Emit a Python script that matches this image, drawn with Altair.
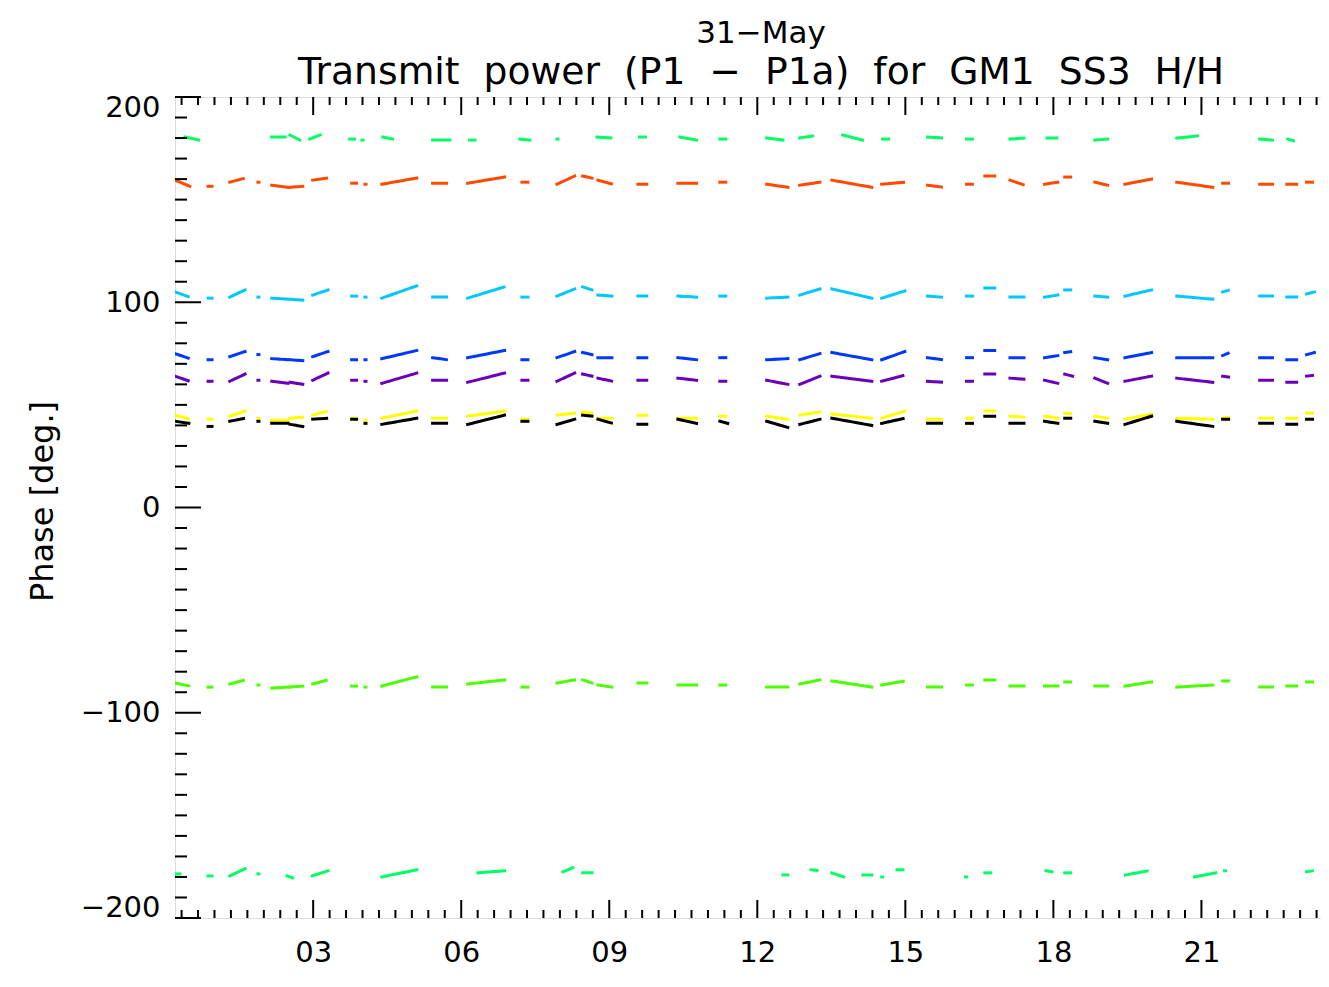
import altair as alt
import pandas as pd

# ---------------- data ----------------
# time clusters (hours of day) shared by the phase series
CLUSTER_START = [0.20, 0.87, 1.31, 1.88, 2.16, 2.53, 2.99, 3.78, 4.05, 4.39, 5.42, 6.13,
                 7.23, 7.94, 8.46, 8.77, 9.58, 10.39, 11.24, 12.19, 12.86, 13.51, 14.52, 15.45,
                 16.24, 16.61, 17.12, 17.82, 18.23, 18.84, 19.45, 20.50, 21.43, 22.18, 22.73, 23.13]
CLUSTER_END = [0.50, 0.95, 1.62, 1.90, 2.49, 2.79, 3.30, 3.88, 4.07, 5.10, 5.71, 6.88,
               7.39, 8.30, 8.65, 9.07, 9.76, 10.77, 11.40, 12.62, 13.27, 14.32, 14.99, 15.76,
               16.36, 16.81, 17.42, 18.09, 18.39, 19.10, 19.99, 21.23, 21.57, 22.44, 22.93, 23.29]

# (value at cluster start, value at cluster end), degrees
RED = [(159.5, 156.5), (156.5, 156.5), (158.5, 160.5), (158.5, 158.5), (157.0, 156.0), (156.0, 156.5),
       (159.5, 160.5), (158.0, 158.0), (157.5, 157.5), (157.5, 160.5), (158.0, 158.0), (158.0, 161.0),
       (158.5, 158.5), (157.5, 161.5), (161.5, 160.5), (159.5, 157.5), (157.5, 157.5), (158.0, 158.0),
       (158.5, 158.5), (157.5, 156.0), (157.0, 158.5), (159.5, 156.0), (157.5, 158.5), (157.0, 156.0),
       (157.5, 157.5), (161.5, 161.5), (159.5, 157.0), (157.5, 158.5), (161.0, 161.0), (158.5, 157.0),
       (157.5, 160.0), (158.5, 156.0), (158.0, 158.0), (157.5, 157.5), (157.5, 157.5), (158.5, 158.5)]
CYAN = [(105.0, 102.5), (102.0, 102.0), (102.5, 106.0), (102.5, 102.5), (102.0, 101.5), (101.5, 101.0),
        (103.5, 106.0), (103.0, 103.0), (102.5, 102.5), (102.0, 108.0), (102.5, 102.5), (102.0, 107.5),
        (102.5, 102.5), (103.0, 106.5), (107.5, 106.0), (103.5, 103.0), (103.0, 103.0), (103.0, 102.5),
        (103.0, 103.0), (102.0, 102.5), (103.5, 106.5), (106.5, 102.0), (102.0, 105.5), (103.0, 102.5),
        (103.0, 103.0), (107.0, 107.0), (102.5, 102.5), (102.5, 103.5), (106.0, 106.0), (103.0, 102.5),
        (103.0, 106.0), (103.0, 101.5), (105.0, 106.0), (103.0, 103.0), (102.5, 102.5), (104.0, 105.0)]
BLUE = [(75.0, 72.5), (72.0, 72.0), (73.5, 76.0), (74.5, 74.5), (72.5, 72.0), (72.0, 71.5),
        (73.5, 76.0), (72.0, 72.0), (72.0, 72.0), (72.5, 76.5), (73.0, 72.0), (73.0, 76.5),
        (72.0, 72.0), (73.0, 76.0), (75.5, 74.5), (73.0, 73.0), (73.0, 73.0), (73.0, 72.0),
        (73.0, 73.0), (72.0, 72.5), (72.0, 75.0), (75.5, 72.0), (72.0, 76.0), (73.0, 72.0),
        (73.0, 73.0), (76.5, 76.5), (73.0, 73.0), (73.0, 74.0), (75.5, 76.0), (73.0, 72.0),
        (73.0, 75.5), (73.0, 73.0), (74.0, 75.5), (73.0, 73.0), (72.0, 72.0), (74.5, 75.5)]
PURPLE = [(64.0, 61.5), (61.5, 61.5), (61.5, 65.0), (62.0, 62.0), (61.5, 60.5), (61.0, 60.0),
          (62.0, 65.5), (62.0, 62.0), (61.5, 61.5), (60.5, 65.5), (62.0, 62.0), (61.0, 65.5),
          (62.0, 62.0), (61.5, 65.5), (65.0, 64.0), (63.0, 61.5), (62.0, 62.0), (63.0, 62.0),
          (61.5, 61.5), (62.0, 60.0), (60.0, 64.0), (64.0, 61.5), (61.5, 64.5), (61.5, 61.0),
          (61.5, 61.5), (65.0, 65.0), (63.0, 62.5), (62.0, 60.5), (65.0, 64.0), (63.0, 60.5),
          (61.5, 64.0), (63.0, 61.0), (64.0, 63.5), (62.0, 62.0), (61.0, 61.0), (64.0, 64.5)]
YELLOW = [(45.0, 43.0), (43.0, 43.0), (44.5, 47.0), (43.5, 43.5), (42.5, 42.5), (43.5, 44.0),
          (45.0, 47.0), (43.5, 43.5), (42.5, 42.5), (43.5, 47.0), (43.5, 43.5), (44.5, 47.0),
          (43.0, 43.0), (45.0, 46.0), (46.5, 46.0), (43.5, 43.5), (45.0, 45.0), (43.5, 43.5),
          (44.5, 44.5), (44.5, 43.0), (45.0, 46.5), (45.5, 43.5), (43.5, 47.0), (43.0, 43.0),
          (43.5, 43.5), (47.0, 47.0), (44.5, 44.0), (44.5, 43.5), (46.0, 45.5), (44.5, 43.5),
          (43.0, 45.5), (43.5, 43.0), (43.5, 44.0), (43.5, 43.5), (43.5, 43.5), (46.0, 46.0)]
BLACK = [(42.0, 41.0), (39.5, 39.5), (42.0, 43.5), (42.0, 42.0), (41.0, 41.0), (40.5, 39.5),
         (43.0, 43.5), (43.0, 43.0), (41.0, 41.0), (40.5, 43.5), (41.0, 41.0), (40.5, 45.0),
         (42.0, 42.0), (40.5, 43.0), (45.0, 44.5), (43.0, 41.0), (40.5, 40.5), (43.0, 41.0),
         (42.0, 41.0), (42.0, 39.0), (40.5, 43.0), (43.5, 40.0), (41.0, 43.5), (41.0, 41.0),
         (41.0, 41.0), (44.5, 44.5), (41.0, 41.0), (42.0, 41.0), (43.5, 43.5), (42.0, 41.0),
         (40.5, 44.5), (42.0, 39.5), (43.0, 43.0), (41.0, 41.0), (40.5, 40.5), (43.0, 43.0)]
LIME = [(-85.5, -87.0), (-87.5, -87.5), (-86.0, -84.0), (-86.5, -86.5), (-88.0, -87.5), (-87.5, -87.0),
        (-86.0, -84.0), (-87.0, -87.0), (-87.5, -87.5), (-87.0, -82.5), (-87.5, -87.5), (-86.0, -84.0),
        (-87.5, -87.5), (-85.5, -84.0), (-84.0, -85.5), (-86.5, -87.5), (-85.5, -85.5), (-86.5, -86.5),
        (-86.5, -86.5), (-87.5, -87.5), (-86.0, -84.0), (-84.5, -87.5), (-86.5, -84.5), (-87.5, -87.5),
        (-86.5, -86.5), (-84.0, -84.0), (-87.0, -87.0), (-87.0, -87.0), (-85.0, -85.0), (-87.0, -87.0),
        (-87.0, -85.0), (-87.5, -86.5), (-84.5, -84.5), (-87.5, -87.5), (-87.0, -87.0), (-85.0, -85.0)]

# the spring-green series sits at the +/-180 wrap: (t start, t end, v start, v end)
SPRING_TOP = [(0.40, 0.70, 180.5, 179.0), (2.16, 2.43, 180.5, 180.5), (2.53, 2.73, 181.5, 179.0),
              (2.93, 3.14, 179.5, 181.5), (3.74, 3.84, 179.5, 179.5), (3.99, 4.01, 179.0, 179.0),
              (4.41, 4.61, 180.5, 179.5), (5.42, 5.77, 179.0, 179.0), (6.17, 6.28, 179.0, 179.0),
              (7.19, 7.39, 179.5, 179.0), (7.94, 7.96, 179.5, 179.5), (8.75, 9.07, 180.5, 180.0),
              (9.61, 9.76, 180.5, 180.5), (10.43, 10.77, 180.5, 179.0), (11.24, 11.40, 179.5, 179.5),
              (12.19, 12.52, 180.0, 179.0), (12.86, 13.12, 180.0, 181.0), (13.73, 14.13, 181.5, 179.0),
              (14.54, 14.68, 179.5, 179.5), (15.45, 15.76, 180.5, 180.0), (16.24, 16.36, 179.5, 179.5),
              (17.12, 17.42, 179.5, 180.0), (17.87, 18.07, 180.0, 180.0), (18.84, 19.10, 179.0, 179.5),
              (20.50, 20.92, 180.0, 181.0), (22.18, 22.44, 179.5, 179.0), (22.75, 22.89, 179.5, 178.5)]
SPRING_BOTTOM = [(0.20, 0.30, -178.5, -178.5), (0.87, 0.95, -179.5, -179.5), (1.31, 1.62, -179.5, -176.0),
                 (1.88, 1.90, -178.5, -178.5), (2.47, 2.59, -179.5, -180.5), (2.98, 3.30, -179.5, -177.0),
                 (4.39, 5.10, -180.0, -176.5), (6.34, 6.88, -178.0, -177.0), (8.06, 8.26, -177.5, -175.5),
                 (8.46, 8.65, -178.0, -178.0), (12.52, 12.62, -179.0, -179.0), (13.09, 13.25, -176.5, -177.0),
                 (13.51, 13.75, -178.0, -180.0), (14.14, 14.32, -179.0, -179.0), (14.52, 14.54, -180.0, -180.0),
                 (14.83, 14.99, -176.5, -176.5), (16.22, 16.24, -180.0, -180.0), (16.61, 16.77, -178.0, -178.0),
                 (17.85, 17.97, -177.0, -177.5), (18.23, 18.39, -178.0, -178.0), (19.46, 19.93, -179.0, -177.0),
                 (20.86, 21.29, -180.0, -178.0), (21.47, 21.49, -177.0, -177.0), (23.13, 23.26, -177.5, -177.0)]

SERIES = ["spring", "red", "cyan", "blue", "purple", "yellow", "black", "lime"]
COLORS = ["#00FF64", "#FF4A00", "#00C8FF", "#0038FF", "#6A00B8", "#FFFF00", "#000000", "#4CFF00"]

X_MAJOR = [3, 6, 9, 12, 15, 18, 21]
X_MINOR = [k / 3 for k in range(1, 72) if k % 9 != 0]
Y_MAJOR = [-200, -100, 0, 100, 200]
Y_MINOR = [v for v in range(-190, 200, 10) if v % 100 != 0]

TITLE_TOP = "31\u2212May"
TITLE_MAIN = "Transmit\u00a0\u00a0power\u00a0\u00a0(P1\u00a0\u00a0\u2212\u00a0\u00a0P1a)\u00a0\u00a0for\u00a0\u00a0GM1\u00a0\u00a0SS3\u00a0\u00a0H/H"

# ---------------- build table ----------------
rows = []
for name, vals in [("red", RED), ("cyan", CYAN), ("blue", BLUE), ("purple", PURPLE),
                   ("yellow", YELLOW), ("black", BLACK), ("lime", LIME)]:
    for i, (t0, t1, (v0, v1)) in enumerate(zip(CLUSTER_START, CLUSTER_END, vals)):
        rows.append({"series": name, "seg": f"{name}-{i}", "t": t0, "v": v0})
        rows.append({"series": name, "seg": f"{name}-{i}", "t": t1, "v": v1})
for part, segs in [("top", SPRING_TOP), ("bot", SPRING_BOTTOM)]:
    for i, (t0, t1, v0, v1) in enumerate(segs):
        rows.append({"series": "spring", "seg": f"spring-{part}-{i}", "t": t0, "v": v0})
        rows.append({"series": "spring", "seg": f"spring-{part}-{i}", "t": t1, "v": v1})
df = pd.DataFrame(rows)

W, H = 1172, 821
FONT = "DejaVu Sans"
xs = alt.Scale(domain=[0.2, 23.95], nice=False, zero=False)
ys = alt.Scale(domain=[-200, 200], nice=False, zero=False)

X_AXIS = alt.Axis(values=X_MAJOR, format="02d", ticks=False, domain=False, grid=False,
                  labelFont=FONT, labelFontSize=29, labelColor="black", labelPadding=20, title=None)
Y_AXIS = alt.Axis(values=Y_MAJOR, ticks=False, domain=False, grid=False,
                  labelFont=FONT, labelFontSize=29, labelColor="black",
                  labelPadding=15, labelFlush=True, labelFlushOffset=4,
                  title="Phase [deg.]", titleFont=FONT, titleFontSize=32,
                  titleFontWeight="normal", titleColor="black",
                  titleAngle=270, titleX=-123, titleY=404,
                  titleAlign="center", titleBaseline="alphabetic")

lines = alt.Chart(df).mark_line(strokeWidth=3, strokeCap="square", strokeDash=[6, 2], clip=True).encode(
    x=alt.X("t:Q", scale=xs, axis=X_AXIS),
    y=alt.Y("v:Q", scale=ys, axis=Y_AXIS),
    color=alt.Color("series:N", scale=alt.Scale(domain=SERIES, range=COLORS), legend=None),
    detail="seg:N",
)

ymaj = pd.DataFrame({"v": Y_MAJOR})
ymin = pd.DataFrame({"v": Y_MINOR})
xmaj = pd.DataFrame({"t": X_MAJOR})
xmin = pd.DataFrame({"t": X_MINOR})

def yticks(d, x0, x1):
    return alt.Chart(d).mark_rule(color="black", strokeWidth=2).encode(
        y=alt.Y("v:Q", scale=ys, axis=Y_AXIS), x=alt.value(x0), x2=alt.value(x1))

def xticks(d, y0, y1):
    return alt.Chart(d).mark_rule(color="black", strokeWidth=2).encode(
        x=alt.X("t:Q", scale=xs, axis=X_AXIS), y=alt.value(y0), y2=alt.value(y1))

chart = alt.layer(
    lines,
    yticks(ymin, 0, 12), yticks(ymaj, 0, 26),
    yticks(ymin, W - 12, W), yticks(ymaj, W - 26, W),
    xticks(xmin, H, H - 8), xticks(xmaj, H, H - 18),
    xticks(xmin, 0, 8), xticks(xmaj, 0, 18),
).properties(
    width=W, height=H,
    autosize=alt.AutoSizeParams(type="none"),
    padding={"left": 167, "top": 89, "right": -26, "bottom": 60},
    title=alt.TitleParams(text=TITLE_TOP, subtitle=TITLE_MAIN, anchor="middle",
                          font=FONT, fontSize=31, fontWeight="normal", color="black",
                          subtitleFont=FONT, subtitleFontSize=37.7, subtitleColor="black",
                          subtitlePadding=4, offset=0),
).configure_view(stroke="black", strokeWidth=2.5).configure(background="white")

chart.save("out.html", embed_options={"renderer": "svg", "actions": False})
